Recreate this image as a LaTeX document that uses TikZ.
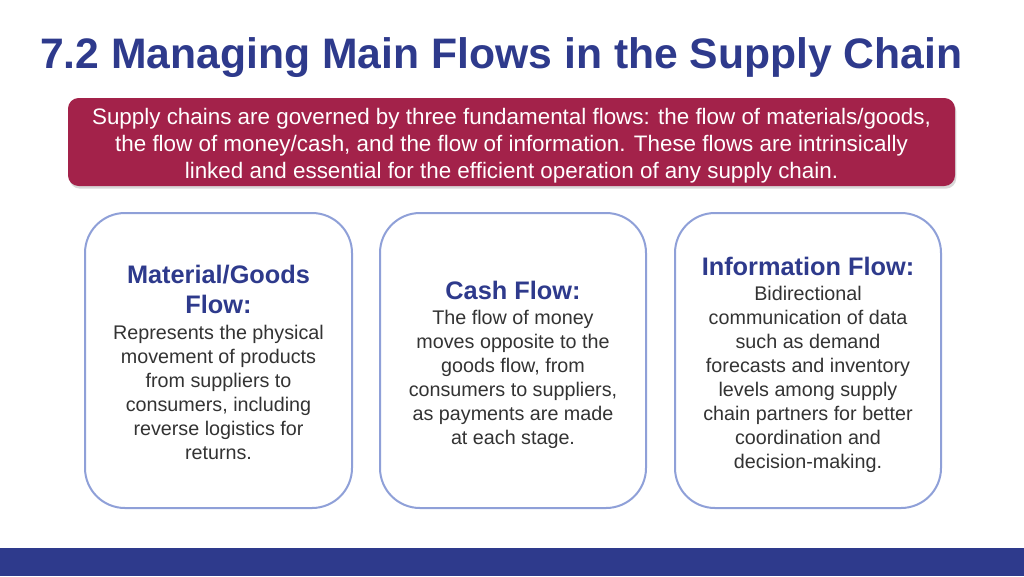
\documentclass[tikz,border=0pt]{standalone}
\usepackage{fontspec}
\setmainfont{Liberation Sans}
\usetikzlibrary{shadows}
\definecolor{navy}{HTML}{2E3A8C}
\definecolor{crim}{HTML}{A3224A}
\definecolor{edge}{HTML}{8FA0D8}
\definecolor{body}{HTML}{333333}
\tikzset{
  card/.style={draw=edge, line width=1.5pt, fill=white, rounded corners=30pt},
  ctitle/.style={text=navy, font=\fontsize{19}{22.5}\selectfont\bfseries, align=center},
  ctext/.style={text=body, font=\fontsize{14.8}{18}\selectfont, align=center},
}
\begin{document}
\begin{tikzpicture}[x=0.75pt,y=-0.75pt]
\useasboundingbox (0,0) rectangle (1024,576);
\fill[white] (0,0) rectangle (1024,576);
\node[anchor=west, text=navy, font=\fontsize{32}{38}\selectfont\bfseries, inner sep=0] (title) at (40,58) {7.2 Managing Main Flows in the Supply Chain};
\node[fill=crim, rounded corners=8pt, minimum width=887*0.75pt, minimum height=88*0.75pt, drop shadow={opacity=0.3, shadow xshift=1pt, shadow yshift=-2pt}] (banner) at (511.5,142) {};
\node[text=white, align=center, font=\fontsize{16.8}{20.2}\selectfont] (btext) at (511.5,146) {Supply chains are governed by three fundamental flows: the flow of materials/goods,\\ the flow of money/cash, and the flow of information. These flows are intrinsically\\ linked and essential for the efficient operation of any supply chain.};
\draw[card] (85,213) rectangle (352,508);
\draw[card] (380,213) rectangle (646,508);
\draw[card] (675,213) rectangle (941,508);
\node[ctitle] (t1) at (218.5,289) {Material/Goods\\Flow:};
\node[ctext, anchor=north] (b1) at (218.5,320) {Represents the physical\\movement of products\\from suppliers to\\consumers, including\\reverse logistics for\\returns.};
\node[ctitle] (t2) at (513,290) {Cash Flow:};
\node[ctext, anchor=north] (b2) at (513,305) {The flow of money\\moves opposite to the\\goods flow, from\\consumers to suppliers,\\as payments are made\\at each stage.};
\node[ctitle] (t3) at (808,266) {Information Flow:};
\node[ctext, anchor=north] (b3) at (808,281) {Bidirectional\\communication of data\\such as demand\\forecasts and inventory\\levels among supply\\chain partners for better\\coordination and\\decision-making.};
\fill[navy] (0,548) rectangle (1024,576);
\end{tikzpicture}
\end{document}
